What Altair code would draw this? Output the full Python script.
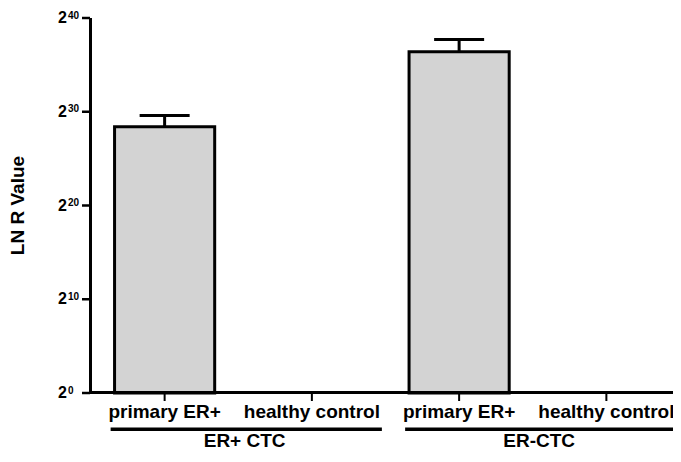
import altair as alt
import pandas as pd

keys = ["a", "b", "c", "d"]
labels = ["primary ER+", "healthy control", "primary ER+", "healthy control"]
groups = ["ER+ CTC", "ER+ CTC", "ER-CTC", "ER-CTC"]
values = [28.4, None, 36.4, None]      # log2 exponent
err_top = [29.6, None, 37.7, None]

group_names = ["ER+ CTC", "ER-CTC"]
group_start = ["a", "c"]
group_end = ["b", "d"]

tick_exps = [0, 10, 20, 30, 40]
y_title = "LN R Value"

df = pd.DataFrame({"key": keys, "label": labels, "group": groups,
                   "value": values, "err": err_top})
gdf = pd.DataFrame({"name": group_names, "start": group_start, "end": group_end})
tdf = pd.DataFrame({"exp": tick_exps, "base": ["2"] * len(tick_exps),
                    "sup": [str(e) for e in tick_exps]})
ttl = pd.DataFrame({"t": [y_title]})
one = pd.DataFrame({"o": [0]})

W, H = 589, 375
FONT = "Liberation Sans"

xscale = alt.Scale(domain=keys, paddingInner=0.32, paddingOuter=0.16)
yscale = alt.Scale(domain=[0, 40], nice=False)

def X(f):
    return alt.X(f, scale=xscale, axis=None, title=None)

def Y(f):
    return alt.Y(f, scale=yscale, axis=None, title=None)

base = alt.Chart(df)
bars = base.transform_filter("isValid(datum.value)").mark_bar(
    fill="#d3d3d3", stroke="black", strokeWidth=3
).encode(x=X("key:N"), y=Y("value:Q"))

err_line = base.transform_filter("isValid(datum.err)").mark_rect(
    color="black", xOffset=-1.5, x2Offset=1.5
).encode(x=X("key:N"), x2="key:N", y=Y("value:Q"), y2="err:Q")

err_cap = base.transform_filter("isValid(datum.err)").mark_rect(
    color="black", xOffset=-25, x2Offset=25, yOffset=-1.5, y2Offset=1.5
).encode(x=X("key:N"), x2="key:N", y=Y("err:Q"), y2="err:Q")

# axes drawn explicitly as filled rectangles
obase = alt.Chart(one)
y_domain = obase.mark_rect(color="black").encode(
    x=alt.value(-2), x2=alt.value(1), y=alt.value(0), y2=alt.value(H + 1))
x_domain = obase.mark_rect(color="black").encode(
    x=alt.value(-2), x2=alt.value(W), y=alt.value(H - 2), y2=alt.value(H + 1))
x_ticks = base.mark_rect(color="black", xOffset=-1, x2Offset=1).encode(
    x=X("key:N"), x2="key:N", y=alt.value(H + 1), y2=alt.value(H + 8))
x_labels = base.mark_text(font=FONT, fontSize=19, fontWeight="bold", color="black",
                          align="center", baseline="alphabetic").encode(
    x=X("key:N"), y=alt.value(H + 25), text="label:N")

tbase = alt.Chart(tdf)
y_ticks = tbase.mark_rect(color="black", yOffset=-1.25, y2Offset=1.25).encode(
    x=alt.value(-9), x2=alt.value(-1), y=Y("exp:Q"), y2="exp:Q")
ylab_base = tbase.mark_text(font=FONT, fontSize=16, fontWeight="bold", color="black",
                            align="right", baseline="middle").encode(
    x=alt.value(-24), y=Y("exp:Q"), text="base:N")
ylab_sup = tbase.mark_text(font=FONT, fontSize=10, fontWeight="bold", color="black",
                           align="left", baseline="alphabetic", dy=0.5).encode(
    x=alt.value(-23), y=Y("exp:Q"), text="sup:N")

title = alt.Chart(ttl).mark_text(font=FONT, fontSize=19, fontWeight="bold", color="black",
                                 align="center", baseline="middle", angle=270).encode(
    x=alt.value(-73), y=alt.value(H / 2), text="t:N")

gbase = alt.Chart(gdf)
glines = gbase.mark_rect(color="black", xOffset=-54, x2Offset=70).encode(
    x=X("start:N"), x2="end:N", y=alt.value(409.5), y2=alt.value(413))
gtext = gbase.mark_text(font=FONT, fontSize=19, fontWeight="bold", color="black",
                        baseline="middle", align="center", dx=80).encode(
    x=X("start:N"), y=alt.value(423), text="name:N")

chart = alt.layer(bars, err_line, err_cap, y_domain, x_domain, x_ticks, x_labels,
                  y_ticks, ylab_base, ylab_sup, title, glines, gtext).properties(
    width=W, height=H,
    autosize=alt.AutoSizeParams(type="none"),
    padding={"left": 83, "top": 10, "right": -7, "bottom": 59},
    background="white",
).configure_view(stroke=None)

chart.save("out.html", embed_options={"renderer": "svg", "actions": False})
